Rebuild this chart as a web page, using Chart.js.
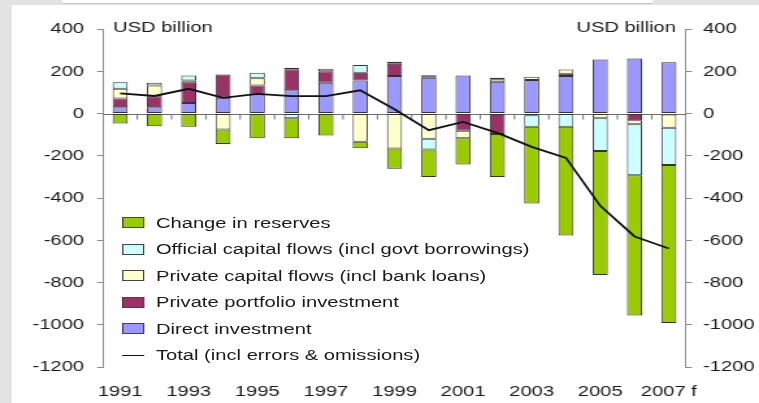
<!DOCTYPE html>
<html>
<head>
<meta charset="utf-8">
<script src="https://cdn.jsdelivr.net/npm/chart.js@4.4.0/dist/chart.umd.min.js"></script>
<style>
  html, body { margin: 0; padding: 0; background: #e3e3e3; overflow: hidden; }
  /* the whole figure is laid out narrow and widened with scaleX */
  #stage { position: relative; width: 584px; height: 403px; transform: scaleX(1.2997); transform-origin: 0 0;
           font-family: 'Liberation Sans', Arial, sans-serif; color: #1a1a1a; }
  #titleStrip { position: absolute; left: 47.7px; top: 0; width: 454px; height: 3px; background: #fff; border-bottom: 1px solid #c4c4c4; }
  #panel { position: absolute; left: 9.2px; top: 5px; right: 0; bottom: 0; background: #fff; }
  #chartBox { position: absolute; left: 0; top: 0; width: 584px; height: 403px; }
  #legend { position: absolute; left: 93.8px; top: 209.5px; font-size: 15.5px; }
  .item { height: 26.5px; display: flex; align-items: center; white-space: nowrap; }
  .swatch { width: 17px; height: 11px; box-sizing: border-box; border: 1px solid #444; margin-right: 9.2px; }
  .dash { width: 17px; height: 0; border-top: 1.6px solid #111; margin-right: 9.2px; }
</style>
</head>
<body>
<div id="stage">
  <div id="titleStrip"></div>
  <div id="panel"></div>
  <div id="chartBox"><canvas id="flows"></canvas></div>
  <div id="legend"></div>
</div>
<script>
const years = ['1991', '1992', '1993', '1994', '1995', '1996', '1997', '1998', '1999',
               '2000', '2001', '2002', '2003', '2004', '2005', '2006', '2007 f'];

// USD billion
const directInvestment    = [30, 30, 50, 74, 90, 110, 145, 156, 177, 169, 180, 150, 158, 177, 256, 260, 243];
const portfolioInvestment = [41, 52, 95, 111, 43, 100, 55, 37, 58, 12, -82, -97, -8, 11, 0, -32, -5];
const privateCapital      = [46, 51, 11, -76, 34, 6, 12, -134, -166, -120, -35, 12, 16, 20, -22, -19, -63];
const officialCapital     = [31, 12, 24, 0, 26, -22, 0, 36, 10, -50, 0, 7, -55, -63, -155, -241, -176];
const reserves            = [-47, -60, -63, -68, -117, -95, -104, -30, -96, -131, -124, -203, -363, -515, -587, -664, -748];
const total               = [95, 83, 117, 74, 93, 82, 82, 110, 20, -79, -40, -92, -158, -210, -437, -582, -639];

const yTicks = { min: -1200, max: 400, step: 200 };

const FONT = "'Liberation Sans', Arial, sans-serif";
const INK = '#1a1a1a';
const AXIS = '#8a8a8a';

Chart.defaults.font.family = FONT;
Chart.defaults.font.size = 15.5;
Chart.defaults.color = INK;

// stacking order from the zero line outward
const barSeries = [
  { label: 'Direct investment', data: directInvestment, color: '#9999ff' },
  { label: 'Private portfolio investment', data: portfolioInvestment, color: '#993366' },
  { label: 'Private capital flows (incl bank loans)', data: privateCapital, color: '#ffffcc' },
  { label: 'Official capital flows (incl govt borrowings)', data: officialCapital, color: '#ccffff' },
  { label: 'Change in reserves', data: reserves, color: '#99cc00' }
];
const totalLabel = 'Total (incl errors & omissions)';

const datasets = barSeries.map(s => ({
  type: 'bar',
  label: s.label,
  data: s.data,
  backgroundColor: s.color,
  borderColor: '#333',
  borderWidth: 1,
  borderSkipped: false,
  barPercentage: 0.44,
  categoryPercentage: 1,
  stack: 'flows',
  order: 1
}));

datasets.push({
  type: 'line',
  label: totalLabel,
  data: total,
  borderColor: '#111',
  borderWidth: 1.8,
  pointRadius: 0,
  tension: 0,
  fill: false,
  stack: 'total',
  order: 0
});

// zero line with small marks between the years
const zeroAxis = {
  id: 'zeroAxis',
  beforeDatasetsDraw(chart) {
    const { ctx, chartArea, scales: { x, y } } = chart;
    const y0 = Math.round(y.getPixelForValue(0)) + 0.5;
    ctx.save();
    ctx.strokeStyle = '#6e6e6e';
    ctx.lineWidth = 1;
    ctx.beginPath();
    ctx.moveTo(chartArea.left, y0);
    ctx.lineTo(chartArea.right, y0);
    for (let i = 1; i < years.length; i++) {
      const bx = (x.getPixelForValue(i - 1) + x.getPixelForValue(i)) / 2;
      ctx.moveTo(bx, y0);
      ctx.lineTo(bx, y0 + 5);
    }
    ctx.stroke();
    ctx.restore();
  }
};

// unit captions beside the top ticks
const unitLabels = {
  id: 'unitLabels',
  afterDraw(chart) {
    const { ctx, chartArea, scales: { y } } = chart;
    const ty = y.getPixelForValue(yTicks.max) - 1;
    ctx.save();
    ctx.font = '15.5px ' + FONT;
    ctx.fillStyle = INK;
    ctx.textBaseline = 'middle';
    ctx.textAlign = 'left';
    ctx.fillText('USD billion', chartArea.left + 7.7, ty);
    ctx.textAlign = 'right';
    ctx.fillText('USD billion', chartArea.right - 7.7, ty);
    ctx.restore();
  }
};

function yAxis(position, padding, width) {
  return {
    type: 'linear',
    position: position,
    stacked: true,
    min: yTicks.min,
    max: yTicks.max,
    ticks: { stepSize: yTicks.step, padding: padding, color: INK, callback: v => String(v) },
    grid: { drawOnChartArea: false, drawTicks: true, tickLength: 4.6, color: AXIS },
    border: { display: true, color: AXIS },
    afterFit: s => { s.width = width; }
  };
}

new Chart(document.getElementById('flows'), {
  data: { labels: years, datasets: datasets },
  options: {
    responsive: true,
    maintainAspectRatio: false,
    animation: false,
    layout: { padding: { left: 0, right: 0, top: 29, bottom: 0 } },
    plugins: { legend: { display: false }, tooltip: { enabled: false } },
    scales: {
      x: {
        stacked: true,
        offset: true,
        grid: { display: false, drawTicks: false },
        border: { display: false },
        ticks: {
          autoSkip: false,
          maxRotation: 0,
          padding: 15.7,
          color: INK,
          callback: (v, i) => (i % 2 === 0 ? years[i] : '')
        },
        afterFit: s => { s.height = 36; }
      },
      y: yAxis('left', 10, 79.25),
      y2: yAxis('right', 8.5, 56.2)
    }
  },
  plugins: [zeroAxis, unitLabels]
});

// legend: reserves first, direct investment last, then the total line
const legend = document.getElementById('legend');
barSeries.slice().reverse().forEach(s => {
  const row = document.createElement('div');
  row.className = 'item';
  row.innerHTML = `<span class="swatch" style="background:${s.color}"></span><span>${s.label}</span>`;
  legend.appendChild(row);
});
const lineRow = document.createElement('div');
lineRow.className = 'item';
lineRow.innerHTML = `<span class="dash"></span><span>${totalLabel.replace('&', '&amp;')}</span>`;
legend.appendChild(lineRow);
</script>
</body>
</html>
